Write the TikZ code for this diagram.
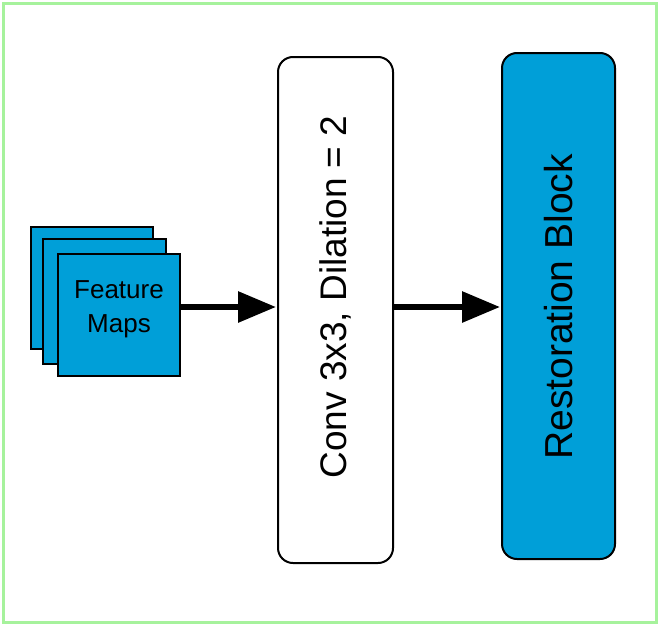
\documentclass[tikz,border=0pt]{standalone}
\usepackage{fontspec}
\setmainfont{Liberation Sans}
\usetikzlibrary{arrows.meta}
\definecolor{fmblue}{HTML}{009FD8}
\definecolor{framegreen}{HTML}{A6F29C}
\begin{document}
\begin{tikzpicture}[x=1pt,y=-1pt,
  fm/.style={draw=black,line width=2pt,fill=fmblue,inner sep=0pt},
  blk/.style={draw=black,line width=2pt,rounded corners=15pt,inner sep=0pt},
  arr/.style={line width=6pt,-{Triangle[length=38pt,width=30pt]},shorten >=1pt},
  rot/.style={rotate=90}]
\useasboundingbox (0,0) rectangle (660,626);
\draw[framegreen,line width=3pt] (3.5,3.5) rectangle (656.5,622.5);
\node[fm,minimum width=122pt,minimum height=122pt] (back) at (92,288) {};
\node[fm,minimum width=123pt,minimum height=125pt] (mid) at (104.5,301.5) {};
\node[fm,minimum width=122pt,minimum height=122pt] (front) at (119,315) {};
\node[align=center,font=\fontsize{26}{34}\selectfont] (fmtext) at ([yshift=6pt]front.center) {Feature\\Maps};
\node[blk,fill=white,minimum width=115pt,minimum height=506pt] (conv) at (335.5,310) {};
\node[rot,font=\fontsize{37}{44}\selectfont] (convtext) at ([yshift=13pt]conv.center) {Conv 3x3, Dilation = 2};
\node[blk,fill=fmblue,minimum width=113pt,minimum height=506pt] (rest) at (558.5,306) {};
\node[rot,font=\fontsize{39}{46}\selectfont] (resttext) at ([yshift=-1pt]rest.center) {Restoration Block};
\draw[arr] (front.east |- 0,307) -- (conv.west |- 0,307);
\draw[arr] (conv.east |- 0,307) -- (rest.west |- 0,307);
\end{tikzpicture}
\end{document}
